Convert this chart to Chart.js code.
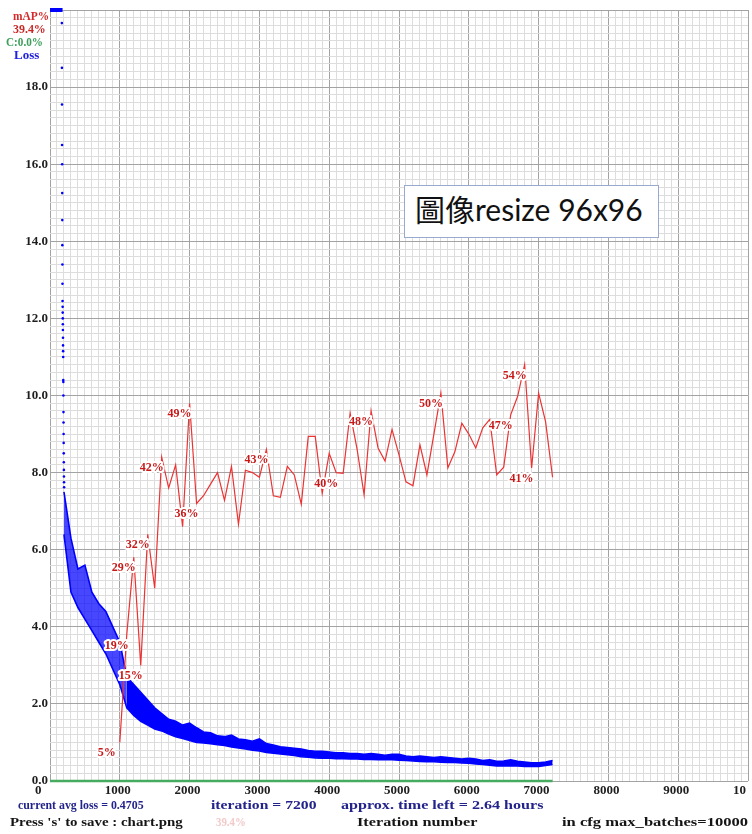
<!DOCTYPE html>
<html lang="zh-Hant">
<head>
<meta charset="UTF-8">
<title>Training chart</title>
<script src="https://cdn.jsdelivr.net/npm/chart.js@4.4.0/dist/chart.umd.min.js"></script>
<style>
  body { margin: 0; background: #fff; }
  #wrap { position: relative; width: 752px; height: 834px; overflow: hidden; }
  #chart { display: block; }
  .t { position: absolute; white-space: nowrap; font: bold 13px "Liberation Serif", serif; line-height: 14px; transform-origin: 0 50%; }
  #note { position: absolute; left: 404px; top: 185px; width: 255px; height: 53px; box-sizing: border-box;
          border: 1.5px solid #98abcf; background: #fff; padding-left: 10px; line-height: 50px;
          font: 30px "Lato", "Noto Sans CJK TC", sans-serif; color: #111; white-space: nowrap; }
</style>
</head>
<body>
<div id="wrap">
  <canvas id="chart" width="752" height="834"></canvas>

  <div class="t" style="left:13px;top:9px;color:#d42a2a" data-w="36">mAP%</div>
  <div class="t" style="left:13px;top:22px;color:#c82828" data-w="33">39.4%</div>
  <div class="t" style="left:6px;top:35px;color:#3ca05a" data-w="37">C:0.0%</div>
  <div class="t" style="left:14px;top:48px;color:#2020e0" data-w="25">Loss</div>

  <div class="t" style="left:18px;top:798px;color:#23238c" data-w="126">current avg loss = 0.4705</div>
  <div class="t" style="left:211px;top:798px;color:#23238c" data-w="106">iteration = 7200</div>
  <div class="t" style="left:341px;top:798px;color:#23238c" data-w="203">approx. time left = 2.64 hours</div>
  <div class="t" style="left:10px;top:815px;color:#151515" data-w="173">Press 's' to save : chart.png</div>
  <div class="t" style="left:216px;top:815px;color:#f3c9c9" data-w="30">39.4%</div>
  <div class="t" style="left:357px;top:815px;color:#151515" data-w="120">Iteration number</div>
  <div class="t" style="left:562px;top:815px;color:#151515" data-w="186">in cfg max_batches=10000</div>

  <div id="note">圖像resize 96x96</div>
</div>

<script>
// axis labels
const xTickLabels = ['0', '1000', '2000', '3000', '4000', '5000', '6000', '7000', '8000', '9000', '10'];
const yTickLabels = ['0.0', '2.0', '4.0', '6.0', '8.0', '10.0', '12.0', '14.0', '16.0', '18.0'];

// mAP (%) every 100 iterations
const mapIter = [1000, 1100, 1200, 1300, 1400, 1500, 1600, 1700, 1800, 1900,
                 2000, 2100, 2200, 2300, 2400, 2500, 2600, 2700, 2800, 2900,
                 3000, 3100, 3200, 3300, 3400, 3500, 3600, 3700, 3800, 3900,
                 4000, 4100, 4200, 4300, 4400, 4500, 4600, 4700, 4800, 4900,
                 5000, 5100, 5200, 5300, 5400, 5500, 5600, 5700, 5800, 5900,
                 6000, 6100, 6200, 6300, 6400, 6500, 6600, 6700, 6800, 6900,
                 7000, 7100, 7200];
const mapPercent = [5, 19, 29, 15, 32, 25, 42, 38, 41, 33,
                    49, 36, 37, 38.5, 40, 36.4, 40.8, 33.3, 40.3, 40,
                    39.4, 43, 37, 36.8, 40.8, 39.7, 35.9, 44.7, 44.7, 37.3,
                    42.5, 40, 39.9, 47.7, 43, 37.1, 48, 43.2, 41.5, 45.6,
                    42.3, 38.8, 38.3, 43.6, 39.7, 45, 50.3, 40.6, 42.7, 46.4,
                    45, 43.2, 45.8, 46.9, 39.7, 40.7, 47.5, 49.9, 54, 40.6,
                    50.3, 46.6, 39.4];
// points that carry a percentage label
const mapLabelIter = [1000, 1100, 1200, 1300, 1400, 1600, 2000, 2100, 3100, 4100, 4600, 5600, 6600, 6800, 6900];
const mapLabelText = ['5%', '19%', '29%', '15%', '32%', '42%', '49%', '36%', '43%', '40%', '48%', '50%', '47%', '54%', '41%'];

// contrastive accuracy line (stays at 0%)
const cIter = [0, 7200];
const cPercent = [0, 0];

// avg loss: values above the top of the chart (20.0)
const lossTopIter = [0, 180];
const lossTopValue = [20, 20];

// avg loss: the fast drop at the start
const lossHeadIter = [170, 171, 172, 173, 174, 175, 176, 177, 178, 179, 180, 181, 182, 183, 184, 185, 186,
                      187, 188, 189, 190, 191, 192, 193, 194, 195, 196, 197, 198, 199, 200, 201, 202];
const lossHeadValue = [19.66, 18.5, 17.55, 16.5, 16.0, 15.25, 14.55, 13.9, 13.4, 12.9, 12.45, 12.3, 12.15, 12.0, 11.85, 11.7, 11.5,
                       11.3, 11.15, 11.0, 10.4, 10.35, 10.0, 9.57, 9.3, 9.0, 8.77, 8.5, 8.27, 8.07, 7.9, 7.75, 7.62];

// avg loss: upper and lower edge of the noisy band, every 100 iterations
const lossIter = [200, 300, 400, 500, 600, 700, 800, 900, 1000, 1100,
                  1200, 1300, 1400, 1500, 1600, 1700, 1800, 1900, 2000, 2100,
                  2200, 2300, 2400, 2500, 2600, 2700, 2800, 2900, 3000, 3100,
                  3200, 3300, 3400, 3500, 3600, 3700, 3800, 3900, 4000, 4100,
                  4200, 4300, 4400, 4500, 4600, 4700, 4800, 4900, 5000, 5100,
                  5200, 5300, 5400, 5500, 5600, 5700, 5800, 5900, 6000, 6100,
                  6200, 6300, 6400, 6500, 6600, 6700, 6800, 6900, 7000, 7100,
                  7200];
const lossUpper = [7.5, 6.3, 5.5, 5.6, 4.9, 4.6, 4.4, 4.0, 3.6, 2.7,
                   2.5, 2.3, 2.1, 1.9, 1.75, 1.6, 1.55, 1.45, 1.5, 1.38,
                   1.27, 1.25, 1.17, 1.15, 1.19, 1.09, 1.07, 1.03, 1.09, 0.97,
                   0.93, 0.89, 0.87, 0.85, 0.83, 0.79, 0.77, 0.77, 0.75, 0.73,
                   0.73, 0.71, 0.71, 0.69, 0.71, 0.69, 0.67, 0.69, 0.69, 0.65,
                   0.63, 0.65, 0.63, 0.61, 0.63, 0.61, 0.59, 0.57, 0.59, 0.57,
                   0.53, 0.55, 0.51, 0.52, 0.55, 0.51, 0.49, 0.47, 0.47, 0.49,
                   0.53];
const lossLower = [6.4, 4.9, 4.5, 4.2, 3.9, 3.6, 3.3, 2.9, 2.5, 1.9,
                   1.7, 1.55, 1.45, 1.35, 1.3, 1.22, 1.15, 1.1, 1.05, 1.0,
                   0.99, 0.97, 0.94, 0.92, 0.88, 0.86, 0.83, 0.8, 0.78, 0.74,
                   0.72, 0.7, 0.68, 0.66, 0.63, 0.62, 0.6, 0.59, 0.59, 0.58,
                   0.58, 0.57, 0.57, 0.56, 0.56, 0.55, 0.55, 0.55, 0.54, 0.53,
                   0.52, 0.51, 0.5, 0.5, 0.49, 0.48, 0.48, 0.47, 0.46, 0.44,
                   0.43, 0.41, 0.39, 0.39, 0.4, 0.39, 0.38, 0.38, 0.38, 0.4,
                   0.43];
// before this iteration the loss points are loose dots, so the band is drawn lighter
const lossSparseUntil = 1100;

const pts = (xs, ys) => xs.map((x, i) => ({ x: x, y: ys[i] }));

const tickFont = { family: 'Liberation Serif', weight: 'bold', size: 13 };
const majorGrid = '#a3a3a3';
const minorGrid = '#dddddd';
const lossBlue = '#0000ff';
const lossBlueLight = 'rgba(0,0,255,0.72)';
const bandFill = c => c.p1.parsed.x <= lossSparseUntil ? lossBlueLight : lossBlue;

// red percentage labels with a white halo, as darknet draws them
const mapLabels = {
    id: 'mapLabels',
    afterDatasetsDraw(chart) {
        const ctx = chart.ctx;
        const xs = chart.scales.x, ys = chart.scales.y2;
        ctx.save();
        ctx.font = 'bold 12px "Liberation Serif"';
        ctx.textBaseline = 'alphabetic';
        ctx.lineJoin = 'round';
        mapLabelIter.forEach((it, k) => {
            const i = mapIter.indexOf(it);
            const px = xs.getPixelForValue(it) - 22;
            const py = ys.getPixelForValue(mapPercent[i]) + 14;
            ctx.lineWidth = 4;
            ctx.strokeStyle = '#fff';
            ctx.strokeText(mapLabelText[k], px, py);
            ctx.fillStyle = 'rgb(200,25,25)';
            ctx.fillText(mapLabelText[k], px, py);
        });
        ctx.restore();
    }
};

new Chart(document.getElementById('chart'), {
    type: 'line',
    data: {
        datasets: [{
            label: 'mAP%',
            data: pts(mapIter, mapPercent),
            yAxisID: 'y2',
            borderColor: 'rgb(236,50,50)',
            borderWidth: 1.2,
            pointRadius: 0,
            order: 0
        }, {
            label: 'C',
            data: pts(cIter, cPercent),
            yAxisID: 'y2',
            borderColor: 'rgb(70,170,95)',
            borderWidth: 2.5,
            pointRadius: 0,
            clip: 4,
            order: 1
        }, {
            label: 'Loss upper',
            data: pts(lossIter, lossUpper),
            borderColor: lossBlue,
            backgroundColor: lossBlue,
            borderWidth: 1.6,
            pointRadius: 0,
            fill: '+1',
            segment: { backgroundColor: bandFill },
            order: 2
        }, {
            label: 'Loss lower',
            data: pts(lossIter, lossLower),
            borderColor: lossBlue,
            borderWidth: 1.6,
            pointRadius: 0,
            order: 3
        }, {
            label: 'Loss start',
            data: pts(lossHeadIter, lossHeadValue),
            showLine: false,
            pointRadius: 1.3,
            pointBorderWidth: 0,
            pointBackgroundColor: lossBlue,
            order: 4
        }, {
            label: 'Loss clipped',
            data: pts(lossTopIter, lossTopValue),
            borderColor: lossBlue,
            borderWidth: 4,
            pointRadius: 0,
            clip: 4,
            order: 5
        }]
    },
    options: {
        responsive: false,
        animation: false,
        layout: { padding: { top: 10, right: 2, left: 0, bottom: 0 } },
        plugins: { legend: { display: false }, tooltip: { enabled: false } },
        scales: {
            x: {
                type: 'linear',
                min: 0,
                max: 10000,
                border: { display: false },
                grid: {
                    drawTicks: false,
                    color: c => (c.tick && c.tick.value % 1000 === 0) ? majorGrid : minorGrid
                },
                ticks: {
                    stepSize: 100,
                    autoSkip: false,
                    maxRotation: 0,
                    align: 'start',
                    labelOffset: -15,
                    padding: 2,
                    color: '#1e1e1e',
                    font: tickFont,
                    callback: v => v % 1000 === 0 ? xTickLabels[v / 1000] : ''
                },
                afterFit: s => { s.height = 53; s.paddingLeft = 0; s.paddingRight = 0; }
            },
            y: {
                min: 0,
                max: 20,
                border: { display: false },
                grid: {
                    drawTicks: false,
                    color: c => {
                        if (!c.tick) return minorGrid;
                        const h = c.tick.value / 2;
                        return Math.abs(h - Math.round(h)) < 1e-6 ? majorGrid : minorGrid;
                    }
                },
                ticks: {
                    stepSize: 0.2,
                    autoSkip: false,
                    padding: 2,
                    color: '#1e1e1e',
                    font: tickFont,
                    callback: v => {
                        const h = v / 2, k = Math.round(h);
                        return (Math.abs(h - k) < 1e-6 && k < yTickLabels.length) ? yTickLabels[k] : '';
                    }
                },
                afterFit: s => { s.width = 50; s.paddingTop = 0; s.paddingBottom = 0; }
            },
            y2: { display: false, min: 0, max: 100 }
        }
    },
    plugins: [mapLabels]
});

// squeeze the overlay texts to the widths seen in the picture
document.querySelectorAll('.t[data-w]').forEach(el => {
    el.style.transform = 'scaleX(' + (Number(el.dataset.w) / el.offsetWidth) + ')';
});
</script>
</body>
</html>
